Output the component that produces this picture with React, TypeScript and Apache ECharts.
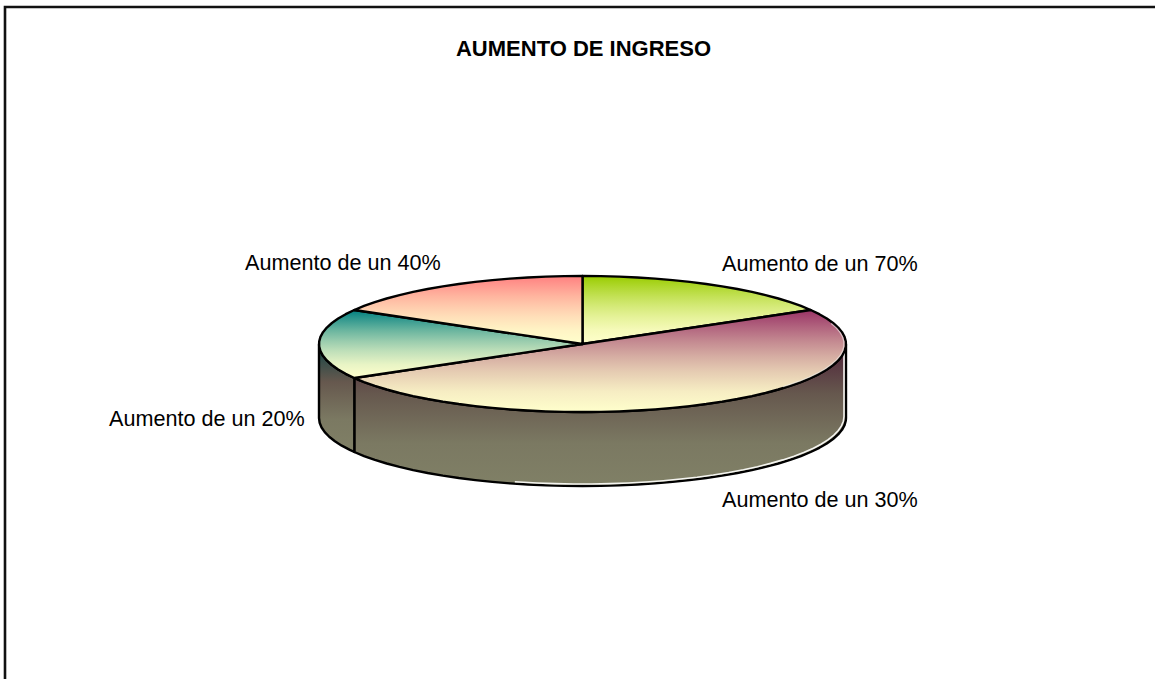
import React, { useEffect, useRef } from "react";
import * as echarts from "echarts";

const title = "AUMENTO DE INGRESO";
const categories = ["Aumento de un 70%", "Aumento de un 30%", "Aumento de un 20%", "Aumento de un 40%"];
const values = [1, 3, 1, 1];
const baseColors = ["#99CC00", "#993366", "#008080", "#FF8080"];
const wallTopColors = ["#4C6600", "#4D1F38", "#0F4444", "#804040"];

const labelAnchors: number[][] = [
  [722, 263],
  [722, 499],
  [109, 418],
  [245, 262],
];

const CX = 582.5;
const CY = 344;
const RX = 263.5;
const RY = 68;
const DEPTH = 74;
const STEP = 4;

const total = values.reduce((a, b) => a + b, 0);
const rad = (d: number) => (d * Math.PI) / 180;
const pt = (deg: number, rx = RX, ry = RY, dy = 0): number[] => [
  CX + rx * Math.sin(rad(deg)),
  CY + dy - ry * Math.cos(rad(deg)),
];
const sweep = (from: number, to: number): number[] => {
  const out = [from];
  const dir = to >= from ? 1 : -1;
  let a = from + dir * STEP;
  while ((to - a) * dir > 0) {
    out.push(a);
    a += dir * STEP;
  }
  out.push(to);
  return out;
};
const toPath = (points: number[][], close = false) =>
  points.map((p, i) => `${i === 0 ? "M" : "L"}${p[0].toFixed(2)} ${p[1].toFixed(2)}`).join(" ") + (close ? " Z" : "");
const angles = (index: number) => {
  const before = values.slice(0, index).reduce((a, b) => a + b, 0);
  return [(before / total) * 360, ((before + values[index]) / total) * 360];
};
const vertical = (stops: [number, string][]) =>
  new echarts.graphic.LinearGradient(0, 0, 0, 1, stops.map(([offset, color]) => ({ offset, color })));
const FADE_STOPS = [0, 0.15, 0.3, 0.45, 0.6, 0.8, 1];
const faded = (color: string): [number, string][] =>
  FADE_STOPS.map((s) => [s, echarts.color.lerp(1 - Math.pow(1 - s, 1.5), [color, "#FFFFCC"], false) as string]);

function renderWall(params: any) {
  const i = params.dataIndex;
  const [a0, a1] = angles(i);
  const from = Math.max(a0, 90);
  const to = Math.min(a1, 270);
  if (to <= from) return { type: "group", children: [] };
  const upper = sweep(from, to).map((a) => pt(a));
  const lower = sweep(to, from).map((a) => pt(a, RX, RY, DEPTH));
  const children: any[] = [
    {
      type: "path",
      shape: { pathData: toPath([...upper, ...lower], true) },
      style: {
        fill: vertical([
          [0, wallTopColors[i]],
          [0.35, "#66584E"],
          [0.7, "#7B7962"],
          [1, "#808066"],
        ]),
        stroke: "#000",
        lineWidth: 2.4,
        lineJoin: "round",
      },
    },
  ];
  if (from === 90) {
    const edge = [pt(90, RX - 2, RY, 8), ...sweep(90, 195).map((a) => pt(a, RX - 2, RY - 0.5, DEPTH - 1.5))];
    children.push({
      type: "path",
      shape: { pathData: toPath(edge) },
      style: { fill: "none", stroke: "#F4F4F0", lineWidth: 1.6 },
    });
  }
  return { type: "group", children };
}

function renderTop(params: any) {
  const i = params.dataIndex;
  const [a0, a1] = angles(i);
  const rim = sweep(a0, a1).map((a) => pt(a));
  const children: any[] = [
    {
      type: "path",
      shape: { pathData: toPath([[CX, CY], ...rim], true) },
      style: {
        fill: vertical(faded(baseColors[i])),
        stroke: "#000",
        lineWidth: 2.4,
        lineJoin: "round",
      },
    },
  ];
  if (a0 < 90 && a1 > 90) {
    const edge = sweep(72, 130).map((a) => pt(a, RX - 2, RY - 1.5));
    children.push({
      type: "path",
      shape: { pathData: toPath(edge) },
      style: { fill: "none", stroke: "#F4F4F0", lineWidth: 1.2, opacity: 0.6 },
    });
  }
  return { type: "group", children };
}

export default function App() {
  const ref = useRef<HTMLDivElement>(null);
  useEffect(() => {
    document.body.style.margin = "0";
    const chart = echarts.init(ref.current!, undefined, { renderer: "svg" });
    const data = values.map((v, i) => ({ name: categories[i], value: v }));
    chart.setOption({
      animation: false,
      backgroundColor: "#fff",
      title: {
        text: title,
        left: 578.5,
        top: 32,
        textAlign: "center",
        textStyle: { fontFamily: "Liberation Sans", fontSize: 22, fontWeight: "bold", color: "#000" },
      },
      graphic: [
        {
          type: "polyline",
          shape: { points: [[5, 679], [5, 7], [1155, 7]] },
          style: { fill: "none", stroke: "#111", lineWidth: 2.6 },
          z: 10,
        },
        ...categories.map((text, i) => ({
          type: "text",
          x: labelAnchors[i][0],
          y: labelAnchors[i][1],
          style: {
            text,
            fill: "#000",
            font: "21.6px 'Liberation Sans'",
            textAlign: "left",
            textVerticalAlign: "middle",
          },
          z: 10,
        })),
      ],
      series: [
        { type: "custom", coordinateSystem: "none", renderItem: renderWall, data, silent: true, z: 2 },
        { type: "custom", coordinateSystem: "none", renderItem: renderTop, data, silent: true, z: 3 },
      ],
    });
    return () => chart.dispose();
  }, []);
  return <div ref={ref} style={{ width: 1155, height: 679 }} />;
}
